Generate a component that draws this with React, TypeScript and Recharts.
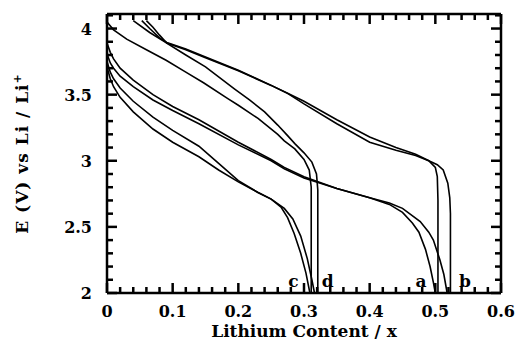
import React from 'react';
import { LineChart, Line, XAxis, YAxis, ReferenceDot, ReferenceLine } from 'recharts';

// voltage profiles: [x, E]
const aDischarge = [[0, 3.89], [0.005, 3.82], [0.01, 3.77], [0.02, 3.7], [0.04, 3.61], [0.07, 3.5], [0.1, 3.41], [0.14, 3.31], [0.2, 3.14], [0.25, 3.01], [0.27, 2.95], [0.3, 2.88], [0.35, 2.79], [0.4, 2.72], [0.43, 2.67], [0.45, 2.61], [0.465, 2.53], [0.475, 2.46], [0.485, 2.33], [0.492, 2.2], [0.497, 2.08], [0.5, 2.0]];
const bDischarge = [[0, 3.81], [0.005, 3.74], [0.01, 3.7], [0.02, 3.64], [0.04, 3.56], [0.07, 3.46], [0.1, 3.38], [0.14, 3.28], [0.2, 3.12], [0.25, 3.0], [0.27, 2.94], [0.3, 2.87], [0.35, 2.79], [0.4, 2.72], [0.43, 2.68], [0.45, 2.64], [0.477, 2.54], [0.49, 2.46], [0.497, 2.4], [0.507, 2.25], [0.513, 2.14], [0.518, 2.0]];
const cDischarge = [[0, 3.71], [0.005, 3.62], [0.01, 3.56], [0.02, 3.48], [0.04, 3.37], [0.07, 3.24], [0.1, 3.14], [0.14, 3.03], [0.17, 2.93], [0.2, 2.84], [0.23, 2.76], [0.25, 2.71], [0.265, 2.65], [0.275, 2.57], [0.285, 2.45], [0.295, 2.3], [0.303, 2.15], [0.309, 2.0]];
const dDischarge = [[0, 3.75], [0.005, 3.67], [0.01, 3.62], [0.02, 3.55], [0.04, 3.45], [0.07, 3.33], [0.1, 3.23], [0.14, 3.11], [0.17, 2.98], [0.2, 2.85], [0.23, 2.76], [0.25, 2.71], [0.27, 2.64], [0.283, 2.56], [0.295, 2.43], [0.305, 2.26], [0.312, 2.1], [0.316, 2.0]];

const aCharge = [[0.504, 2.0], [0.504, 2.7], [0.503, 2.88], [0.5, 2.95], [0.49, 3.0], [0.47, 3.05], [0.44, 3.1], [0.4, 3.18], [0.35, 3.31], [0.3, 3.45], [0.275, 3.51], [0.25, 3.57], [0.2, 3.68], [0.15, 3.78], [0.12, 3.84], [0.091, 3.89], [0.065, 3.97], [0.04, 4.06]];
const bCharge = [[0.523, 2.0], [0.523, 2.6], [0.522, 2.72], [0.519, 2.83], [0.512, 2.93], [0.503, 2.97], [0.49, 3.0], [0.47, 3.04], [0.44, 3.08], [0.4, 3.14], [0.35, 3.28], [0.3, 3.43], [0.275, 3.51], [0.25, 3.57], [0.2, 3.685], [0.15, 3.785], [0.12, 3.845], [0.091, 3.895], [0.08, 3.93], [0.065, 4.0], [0.053, 4.06]];
const cCharge = [[0.311, 2.0], [0.311, 2.8], [0.308, 2.93], [0.3, 3.01], [0.286, 3.09], [0.27, 3.15], [0.26, 3.2], [0.23, 3.32], [0.2, 3.42], [0.184, 3.47], [0.147, 3.59], [0.12, 3.67], [0.09, 3.76], [0.06, 3.84], [0.03, 3.92], [0.01, 3.99], [0, 4.05]];
const dCharge = [[0.321, 2.0], [0.321, 2.78], [0.319, 2.9], [0.312, 2.99], [0.3, 3.06], [0.286, 3.13], [0.275, 3.19], [0.26, 3.27], [0.24, 3.37], [0.217, 3.46], [0.195, 3.54], [0.15, 3.71], [0.12, 3.8], [0.091, 3.89], [0.08, 3.95], [0.07, 4.01], [0.06, 4.06]];

const curves = [aDischarge, bDischarge, cDischarge, dDischarge, aCharge, bCharge, cCharge, dCharge];

const curveLabels = [
  { name: 'a', x: 0.478, y: 2.09 },
  { name: 'b', x: 0.545, y: 2.09 },
  { name: 'c', x: 0.284, y: 2.09 },
  { name: 'd', x: 0.336, y: 2.09 },
];

const xTicks = [0, 0.02, 0.04, 0.06, 0.08, 0.1, 0.12, 0.14, 0.16, 0.18, 0.2, 0.22, 0.24, 0.26, 0.28, 0.3, 0.32, 0.34, 0.36, 0.38, 0.4, 0.42, 0.44, 0.46, 0.48, 0.5, 0.52, 0.54, 0.56, 0.58, 0.6];
const xMajor = ['0', '0.1', '0.2', '0.3', '0.4', '0.5', '0.6'];
const yTicks = [2, 2.1, 2.2, 2.3, 2.4, 2.5, 2.6, 2.7, 2.8, 2.9, 3, 3.1, 3.2, 3.3, 3.4, 3.5, 3.6, 3.7, 3.8, 3.9, 4, 4.1];
const yMajor = ['2', '2.5', '3', '3.5', '4'];
const xMin = 0;
const xMax = 0.6;
const yMin = 2;
const yMax = 4.11;

const W = 518;
const H = 339;
const MARGIN = { top: 14, right: 17, bottom: 0, left: 0 };
const X_AXIS_H = 46;
const Y_AXIS_W = 107;
const PLOT_W = W - MARGIN.left - MARGIN.right - Y_AXIS_W;
const PLOT_H = H - MARGIN.top - MARGIN.bottom - X_AXIS_H;
// pixel lengths of the inward ticks, in data units
const xPerPx = (xMax - xMin) / PLOT_W;
const yPerPx = (yMax - yMin) / PLOT_H;

const FONT = '"DejaVu Serif", serif';
const MAJOR = 10;
const MINOR = 6;
const FRAME = 2.5;

const label = (v: number) => String(+v.toFixed(2));

const BottomTick = ({ x, y, payload }: any) => {
  const txt = label(payload.value);
  if (!xMajor.includes(txt)) return <g />;
  return (
    <text x={x} y={y + 24} textAnchor="middle" fontFamily={FONT} fontWeight="bold" fontSize={16} fill="#000">
      {txt}
    </text>
  );
};

const LeftTick = ({ x, y, payload }: any) => {
  const txt = label(payload.value);
  if (!yMajor.includes(txt)) return <g />;
  return (
    <text x={x - 15} y={y + 6} textAnchor="end" fontFamily={FONT} fontWeight="bold" fontSize={16} fill="#000">
      {txt}
    </text>
  );
};

const XTitle = ({ viewBox }: any) => (
  <text x={viewBox.x + viewBox.width / 2} y={viewBox.y + 43.5} textAnchor="middle" fontFamily={FONT} fontWeight="bold" fontSize={17} fill="#000">
    Lithium Content / x
  </text>
);

const YTitle = ({ viewBox }: any) => {
  const cx = viewBox.x + 28;
  const cy = viewBox.y + viewBox.height / 2;
  return (
    <text x={cx} y={cy} transform={`rotate(-90 ${cx} ${cy})`} textAnchor="middle" fontFamily={FONT} fontWeight="bold" fontSize={17} letterSpacing={1} fill="#000">
      E (V) vs Li / Li<tspan fontSize={11} dy={-7}>+</tspan>
    </text>
  );
};

// inward tick marks on all four sides
const tickSegments: { x: number; y: number }[][] = [];
xTicks.forEach((t) => {
  const len = (xMajor.includes(label(t)) ? MAJOR : MINOR) * yPerPx;
  tickSegments.push([{ x: t, y: yMin }, { x: t, y: yMin + len }]);
  tickSegments.push([{ x: t, y: yMax }, { x: t, y: yMax - len }]);
});
yTicks.forEach((t) => {
  const len = (yMajor.includes(label(t)) ? MAJOR : MINOR) * xPerPx;
  tickSegments.push([{ x: xMin, y: t }, { x: xMin + len, y: t }]);
  tickSegments.push([{ x: xMax, y: t }, { x: xMax - len, y: t }]);
});

export default function App() {
  return (
    <div style={{ position: 'absolute', left: 0, top: 0 }}>
      <LineChart width={W} height={H} margin={MARGIN}>
        <XAxis
          type="number"
          dataKey="x"
          domain={[xMin, xMax]}
          ticks={xTicks}
          interval={0}
          height={X_AXIS_H}
          tickSize={0}
          tickMargin={0}
          tickLine={false}
          axisLine={{ stroke: '#000', strokeWidth: FRAME }}
          tick={<BottomTick />}
          label={<XTitle />}
        />
        <YAxis
          type="number"
          domain={[yMin, yMax]}
          ticks={yTicks}
          interval={0}
          width={Y_AXIS_W}
          tickSize={0}
          tickMargin={0}
          tickLine={false}
          axisLine={{ stroke: '#000', strokeWidth: FRAME }}
          tick={<LeftTick />}
          label={<YTitle />}
        />
        <ReferenceLine y={yMax} stroke="#000" strokeWidth={FRAME} />
        <ReferenceLine x={xMax} stroke="#000" strokeWidth={FRAME} />
        {tickSegments.map((s, i) => (
          <ReferenceLine key={`t${i}`} segment={s} stroke="#000" strokeWidth={2.5} ifOverflow="visible" />
        ))}
        {curves.map((c, i) => (
          <Line
            key={i}
            data={c.map(([x, v]) => ({ x, v }))}
            dataKey="v"
            type="linear"
            stroke="#000"
            strokeWidth={1.6}
            dot={false}
            isAnimationActive={false}
          />
        ))}
        {curveLabels.map((l) => (
          <ReferenceDot
            key={l.name}
            x={l.x}
            y={l.y}
            r={1}
            fill="none"
            stroke="none"
            label={{ value: l.name, position: 'center', fontFamily: FONT, fontWeight: 'bold', fontSize: 17, fill: '#000' }}
          />
        ))}
      </LineChart>
    </div>
  );
}
